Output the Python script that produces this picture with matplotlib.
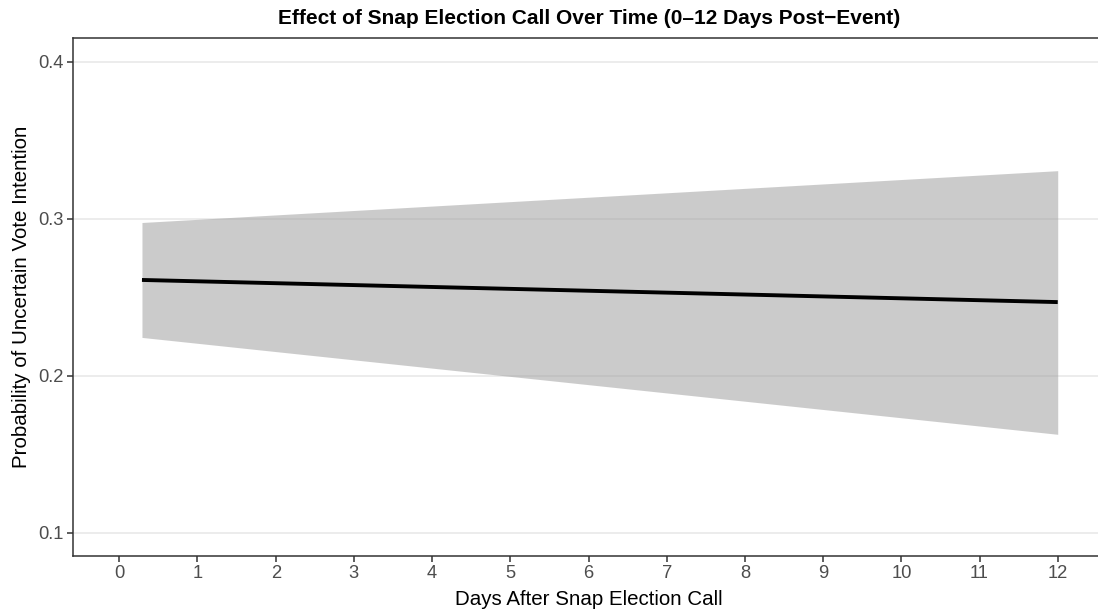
import matplotlib
matplotlib.use("Agg")
import matplotlib.pyplot as plt

# Predicted probability of an uncertain vote intention over days since the call
days = [0.29, 12.0]
prob_fit = [0.2610, 0.2469]
prob_lower = [0.2244, 0.1627]
prob_upper = [0.2976, 0.3306]

x_ticks = list(range(0, 13))
y_ticks = [0.1, 0.2, 0.3, 0.4]
y_tick_labels = ["0.1", "0.2", "0.3", "0.4"]

W, H = 1098, 614
fig = plt.figure(figsize=(W / 100, H / 100), dpi=100)
plt.rcParams["font.family"] = ["Liberation Sans", "DejaVu Sans"]

left, right, bottom, top = 73.3, 1098, 556, 38.3
ax = fig.add_axes([left / W, 1 - bottom / H, (right - left) / W, (bottom - top) / H])

ax.fill_between(days, prob_lower, prob_upper, color="#999999", alpha=0.5, linewidth=0, zorder=2)
ax.plot(days, prob_fit, color="black", linewidth=2.8, solid_capstyle="butt", zorder=3)

ax.set_xlim(-0.588, 12.515)
ax.set_ylim(0.0852, 0.4149)
ax.set_xticks(x_ticks)
ax.set_yticks(y_ticks)
ax.set_yticklabels(y_tick_labels)

ax.grid(axis="y", color="#EBEBEB", linewidth=1.3, zorder=1)
ax.grid(axis="x", visible=False)
ax.set_axisbelow(True)

for side in ["left", "bottom", "top"]:
    ax.spines[side].set_color("#333333")
    ax.spines[side].set_linewidth(1.1)
ax.spines["right"].set_visible(False)

ax.tick_params(axis="both", colors="#333333", length=4.2, width=1.1, labelsize=13.2,
               labelcolor="#4D4D4D")
ax.tick_params(axis="y", pad=2.5)
ax.tick_params(axis="x", pad=2.5)

cx = 589 / W
fig.text(cx, 1 - 24 / H, "Effect of Snap Election Call Over Time (0\u201312 Days Post\u2212Event)",
         ha="center", va="baseline", fontsize=15, fontweight="bold", color="black")
fig.text(cx, 1 - 605 / H, "Days After Snap Election Call", ha="center", va="baseline",
         fontsize=14.75, color="black")
fig.text(27 / W, 1 - 297 / H, "Probability of Uncertain Vote Intention", ha="center", va="baseline",
         rotation=90, rotation_mode="anchor", fontsize=14.75, color="black")

fig.savefig("out.png", dpi=100)
